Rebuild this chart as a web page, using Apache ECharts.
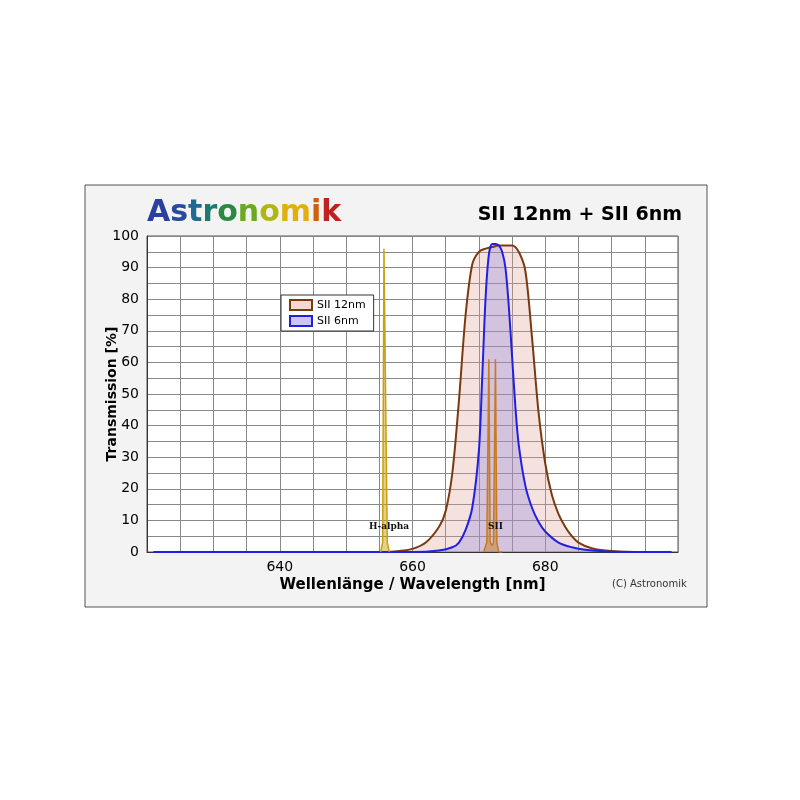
<!DOCTYPE html>
<html><head><meta charset="utf-8">
<script src="https://cdn.jsdelivr.net/npm/echarts@6/dist/echarts.min.js"></script>
<style>body{margin:0;background:#fff}#c{width:800px;height:800px}</style>
</head><body><div id="c"></div>
<script>
const wl12 = [621,656,658,660,662,664,665,666,667,668,669,670,671,672,673,674,675,676,677,678,679,680,681,682,683,684,685,687,690,695,699];
const t12  = [0,0,0.3,1,3,8,13,25,48,75,91,95,96,96.5,97,97,97,95,89,68,44,28,18,12,8,5,3,1.2,0.3,0,0];
const wl6  = [621,660,664,666,667,668,669,670,670.5,671,671.5,672,672.5,673,673.5,674,674.5,675,675.5,676,677,678,679,680,682,684,686,690,699];
const t6   = [0,0,0.5,1.5,3,7,14,32,55,80,94,97.5,97.5,97,95,90,78,62,46,34,21,14,9.5,6.5,3,1.5,0.7,0.1,0];
const haWl = [655.2,655.5,655.7,655.9,656.2,656.5];
const haT  = [0,3,96,96,3,0];
const siiWl = [670.7,671.2,671.5,671.7,672,672.2,672.5,672.7,673,673.5];
const siiT  = [0,3,61,3,2,3,61,3,0,0];
const yTicks = [0,10,20,30,40,50,60,70,80,90,100];
const xLabels = [640,660,680];

const pair=(a,b)=>a.map((x,i)=>[x,b[i]]);
const logoColors=['#2b3f9e','#2a4aa0','#1f6a90','#1a7a70','#2a8a40','#6aaa20','#b0b810','#e0b010','#d06010','#c02020'];
const logoRich={};logoColors.forEach((c,i)=>logoRich['c'+i]={fill:c,font:'bold 30px "DejaVu Sans", sans-serif'});
const logoText='Astronomik'.split('').map((ch,i)=>'{c'+i+'|'+ch+'}').join('');
const chart = echarts.init(document.getElementById('c'));
chart.setOption({
  backgroundColor:'#fff',
  animation:false,
  graphic:[
    {type:'rect',shape:{x:85,y:185,width:622,height:422},style:{fill:'#f3f3f3',stroke:'#555',lineWidth:1},z:-10},
    {type:'text',left:147,top:198,style:{text:logoText,rich:logoRich}},
    {type:'text',right:800-682,top:206,style:{text:'SII 12nm + SII 6nm',font:'bold 19px "DejaVu Sans", sans-serif',fill:'#000',align:'right'}},
    {type:'text',left:612,top:579,style:{text:'(C) Astronomik',font:'10px "DejaVu Sans", sans-serif',fill:'#333'}},
    {type:'text',left:369,top:522,z:100,style:{text:'H-alpha',font:'bold 9px "DejaVu Serif", serif',fill:'#111'}},
    {type:'text',left:488,top:522,z:100,style:{text:'SII',font:'bold 9px "DejaVu Serif", serif',fill:'#111'}}
  ],
  grid:{left:147,right:122,top:236,bottom:248,backgroundColor:'#fff',show:true,borderColor:'#555'},
  legend:{left:281,top:295,orient:'vertical',backgroundColor:'#fff',borderColor:'#333',borderWidth:1,padding:[4,8],itemGap:4,
    itemWidth:22,itemHeight:10,textStyle:{fontFamily:'"DejaVu Sans", sans-serif',fontSize:11,color:'#000'},
    data:[{name:'SII 12nm',icon:'rect',itemStyle:{color:'rgba(230,180,170,0.5)',borderColor:'#7a3a10',borderWidth:2}},
          {name:'SII 6nm',icon:'rect',itemStyle:{color:'rgba(170,160,230,0.6)',borderColor:'#2020e0',borderWidth:2}}]},
  xAxis:{type:'value',min:620,max:700,interval:5,
    axisLabel:{formatter:v=>xLabels.includes(v)?String(v):'',fontSize:14,color:'#000',fontFamily:'"DejaVu Sans", sans-serif'},
    axisTick:{show:false},axisLine:{lineStyle:{color:'#333'}},
    splitLine:{lineStyle:{color:'#888'}},
    name:'Wellenlänge / Wavelength [nm]',nameLocation:'middle',nameGap:26,
    nameTextStyle:{fontSize:15,fontWeight:'bold',color:'#000',fontFamily:'"DejaVu Sans", sans-serif'}},
  yAxis:{type:'value',min:0,max:100,interval:5,
    axisLabel:{formatter:v=>yTicks.includes(v)?String(v):'',fontSize:14,color:'#000',fontFamily:'"DejaVu Sans", sans-serif'},
    axisTick:{show:false},axisLine:{show:true,lineStyle:{color:'#333'}},
    splitLine:{lineStyle:{color:'#888'}},
    name:'Transmission [%]',nameLocation:'middle',nameGap:28,nameMoveOverlap:false,
    nameTextStyle:{fontSize:14,fontWeight:'bold',color:'#000',fontFamily:'"DejaVu Sans", sans-serif'}},
  series:[
    {name:'SII 12nm',type:'line',data:pair(wl12,t12),symbol:'none',smooth:0.3,
      lineStyle:{color:'#7a3a10',width:2},areaStyle:{color:'rgba(225,165,155,0.45)'},itemStyle:{color:'#7a3a10'}},
    {name:'SII 6nm',type:'line',data:pair(wl6,t6),symbol:'none',smooth:0.3,
      lineStyle:{color:'#2020e0',width:2},areaStyle:{color:'rgba(140,130,220,0.45)'},itemStyle:{color:'#2020e0'}},
    {name:'H-alpha',type:'line',data:pair(haWl,haT),symbol:'none',
      lineStyle:{color:'#c8a010',width:1.5},areaStyle:{color:'rgba(200,160,16,0.7)'}},
    {name:'SII line',type:'line',data:pair(siiWl,siiT),symbol:'none',
      lineStyle:{color:'#c87a20',width:1.5},areaStyle:{color:'rgba(200,122,32,0.7)'}}
  ]
});
</script></body></html>
